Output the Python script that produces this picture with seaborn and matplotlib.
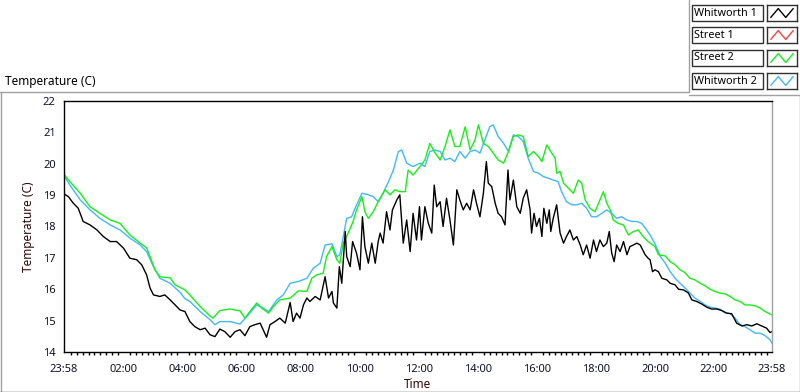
import numpy as np
import pandas as pd
import seaborn as sns
import matplotlib.pyplot as plt
from matplotlib.patches import Rectangle
from matplotlib.lines import Line2D
from matplotlib.ticker import FixedLocator

# time axis: minutes after 23:58 of the previous day
tick_minutes = [0, 122, 242, 362, 482, 602, 722, 842, 962, 1082, 1202, 1322, 1440]
tick_labels = ["23:58", "02:00", "04:00", "06:00", "08:00", "10:00", "12:00",
               "14:00", "16:00", "18:00", "20:00", "22:00", "23:58"]

SERIES = ["Whitworth 1", "Street 1", "Street 2", "Whitworth 2"]
COLORS = {"Whitworth 1": "#000000", "Street 1": "#ff3c3c",
          "Street 2": "#14f014", "Whitworth 2": "#40b8ff"}

whit1_t = [0, 9, 19, 29, 39, 53, 67, 80, 94, 107, 121, 134, 148, 158, 168, 175,
           182, 195, 205, 216, 226, 236, 246, 256, 266, 277, 287, 297, 307, 317,
           327, 338, 348, 358, 368, 378, 388, 399, 405, 412, 419, 429, 439, 450,
           460, 466, 473, 480, 487, 494, 500, 511, 521, 531, 538, 545, 548, 555,
           560, 565, 572, 575, 582, 587, 595, 602, 607, 612, 619, 626, 633, 639,
           643, 649, 656, 663, 668, 677, 683, 690, 697, 704, 710, 717, 723, 727,
           734, 741, 748, 753, 758, 765, 771, 778, 785, 792, 799, 805, 812, 819,
           826, 833, 839, 846, 853, 859, 863, 870, 877, 883, 890, 897, 903, 907,
           914, 921, 928, 934, 941, 948, 951, 956, 961, 967, 972, 976, 982, 987,
           990, 995, 1002, 1009, 1016, 1022, 1029, 1036, 1043, 1050, 1056, 1063,
           1070, 1077, 1083, 1090, 1097, 1104, 1109, 1114, 1119, 1124, 1131, 1138,
           1145, 1151, 1158, 1165, 1172, 1182, 1188, 1192, 1197, 1202, 1209, 1216,
           1226, 1233, 1243, 1250, 1260, 1270, 1277, 1287, 1297, 1307, 1317, 1328,
           1338, 1348, 1358, 1368, 1379, 1389, 1399, 1409, 1419, 1429, 1436, 1440]
whit1_v = [19.04, 18.95, 18.74, 18.58, 18.16, 18.05, 17.89, 17.68, 17.52, 17.52,
           17.31, 16.99, 16.94, 16.78, 16.46, 16.04, 15.82, 15.77, 15.82, 15.66,
           15.50, 15.34, 15.29, 14.97, 14.81, 14.71, 14.76, 14.55, 14.49, 14.73,
           14.65, 14.47, 14.65, 14.71, 14.52, 14.81, 14.87, 14.92, 14.71, 14.47,
           14.87, 14.97, 15.08, 14.92, 15.58, 14.97, 15.24, 15.08, 15.50, 15.72,
           15.61, 15.77, 15.66, 16.40, 15.72, 15.93, 15.56, 15.40, 16.72, 16.19,
           17.84, 17.04, 16.72, 17.52, 17.15, 16.62, 18.31, 17.36, 16.83, 17.47,
           16.83, 17.52, 17.79, 17.47, 18.47, 17.89, 18.53, 18.85, 19.01, 17.47,
           18.21, 17.20, 18.42, 17.57, 18.63, 17.57, 18.63, 18.10, 17.79, 19.32,
           18.63, 18.79, 18.00, 18.90, 18.21, 17.41, 19.17, 18.85, 18.53, 18.74,
           18.53, 19.17, 18.74, 18.31, 19.06, 20.07, 19.38, 19.27, 18.74, 18.42,
           18.31, 18.05, 19.80, 18.85, 19.48, 18.63, 18.42, 18.90, 19.17, 18.53,
           17.79, 18.42, 18.00, 18.26, 17.68, 18.58, 18.10, 18.53, 17.84, 18.26,
           18.69, 17.79, 17.47, 17.68, 17.89, 17.57, 17.68, 17.41, 17.10, 17.41,
           16.99, 17.57, 17.20, 17.57, 17.36, 17.47, 17.84, 17.15, 16.88, 17.41,
           17.20, 17.52, 17.10, 17.36, 17.41, 17.47, 17.41, 17.10, 16.99, 16.94,
           16.56, 16.62, 16.56, 16.35, 16.30, 16.19, 16.14, 16.00, 15.98, 15.88,
           15.66, 15.61, 15.53, 15.43, 15.37, 15.37, 15.32, 15.24, 15.22, 14.92,
           14.83, 14.87, 14.83, 14.90, 14.83, 14.76, 14.62, 14.65]

street2_t = [0, 12, 33, 53, 73, 94, 114, 134, 155, 168, 175, 185, 195, 216, 226,
             246, 256, 277, 297, 303, 317, 338, 358, 368, 378, 392, 402, 416, 426,
             439, 460, 477, 494, 504, 514, 527, 534, 545, 555, 561, 568, 578, 588,
             595, 606, 612, 619, 629, 639, 653, 663, 673, 683, 694, 700, 710, 724,
             734, 744, 755, 765, 775, 785, 795, 805, 816, 826, 836, 843, 853, 863,
             873, 883, 894, 904, 914, 924, 934, 944, 955, 965, 972, 982, 992, 999,
             1002, 1009, 1016, 1026, 1036, 1046, 1053, 1060, 1070, 1080, 1090, 1097,
             1104, 1111, 1117, 1127, 1138, 1148, 1158, 1168, 1178, 1188, 1202, 1209,
             1223, 1233, 1243, 1253, 1263, 1273, 1283, 1294, 1304, 1314, 1324, 1334,
             1345, 1355, 1365, 1375, 1385, 1395, 1406, 1416, 1426, 1440]
street2_v = [19.66, 19.43, 19.06, 18.63, 18.42, 18.21, 18.10, 17.73, 17.47, 17.32,
             17.04, 16.62, 16.40, 16.36, 16.14, 15.98, 15.82, 15.45, 15.15, 15.08,
             15.32, 15.37, 15.31, 15.08, 15.29, 15.56, 15.40, 15.24, 15.45, 15.66,
             15.72, 15.95, 15.93, 16.35, 16.46, 16.51, 17.04, 17.36, 16.94, 16.83,
             17.47, 17.79, 18.16, 18.53, 18.95, 18.47, 18.26, 18.47, 18.79, 19.17,
             19.01, 19.17, 19.11, 19.11, 19.80, 19.64, 19.91, 20.12, 20.65, 20.34,
             20.12, 20.55, 21.08, 20.55, 20.55, 21.18, 20.44, 20.76, 21.24, 20.65,
             20.55, 20.34, 20.12, 20.02, 20.39, 20.87, 20.92, 20.87, 20.23, 20.39,
             20.23, 20.07, 20.60, 20.34, 20.18, 19.70, 19.75, 19.38, 19.22, 19.06,
             19.48, 19.38, 18.85, 18.58, 18.47, 18.85, 19.11, 18.74, 18.53, 18.21,
             18.10, 18.05, 17.73, 17.84, 17.89, 17.68, 17.52, 17.36, 17.10, 17.06,
             16.88, 16.78, 16.62, 16.53, 16.35, 16.30, 16.19, 16.11, 16.00, 15.93,
             15.88, 15.85, 15.77, 15.66, 15.61, 15.50, 15.50, 15.47, 15.40, 15.29,
             15.18]

whit2_t = [0, 12, 33, 53, 73, 94, 114, 134, 155, 168, 182, 195, 216, 236, 246,
           256, 277, 297, 307, 317, 338, 358, 378, 392, 405, 416, 433, 446, 460,
           477, 494, 507, 521, 531, 545, 555, 561, 568, 575, 585, 592, 606, 619,
           629, 639, 649, 660, 670, 680, 687, 697, 710, 724, 734, 744, 755, 765,
           775, 785, 795, 805, 816, 826, 836, 846, 856, 866, 873, 883, 894, 904,
           914, 924, 934, 944, 955, 965, 975, 985, 995, 1005, 1012, 1022, 1033,
           1043, 1053, 1063, 1073, 1083, 1094, 1104, 1114, 1124, 1134, 1145, 1155,
           1165, 1175, 1185, 1192, 1202, 1213, 1223, 1233, 1243, 1253, 1263, 1273,
           1283, 1294, 1304, 1314, 1324, 1334, 1345, 1355, 1365, 1375, 1385, 1395,
           1406, 1416, 1426, 1436, 1440]
whit2_v = [19.62, 19.32, 18.85, 18.53, 18.26, 18.05, 17.89, 17.63, 17.41, 17.20,
           16.72, 16.35, 16.19, 15.90, 15.70, 15.61, 15.29, 15.03, 14.87, 14.97,
           14.97, 14.89, 15.24, 15.50, 15.40, 15.29, 15.66, 15.82, 16.19, 16.25,
           16.35, 16.67, 16.83, 17.41, 17.45, 17.04, 17.10, 17.68, 18.26, 18.31,
           18.58, 19.06, 19.01, 18.95, 18.79, 19.06, 19.43, 19.80, 20.39, 20.44,
           20.02, 19.91, 20.02, 19.91, 20.39, 20.44, 20.39, 20.12, 20.18, 20.07,
           20.39, 20.18, 20.39, 20.44, 20.34, 20.76, 21.18, 21.24, 20.87, 20.65,
           20.39, 20.92, 20.87, 20.71, 20.18, 19.75, 19.70, 19.59, 19.54, 19.48,
           19.43, 19.11, 18.79, 18.69, 18.69, 18.74, 18.58, 18.31, 18.31, 18.42,
           18.53, 18.42, 18.26, 18.31, 18.21, 18.16, 18.16, 18.10, 17.89, 17.73,
           17.45, 17.04, 16.83, 16.56, 16.35, 16.19, 16.04, 15.88, 15.72, 15.61,
           15.50, 15.43, 15.40, 15.37, 15.24, 15.22, 15.08, 14.87, 14.81, 14.71,
           14.60, 14.60, 14.52, 14.39, 14.28]

df = pd.concat([
    pd.DataFrame({"minute": whit1_t, "temp": whit1_v, "sensor": "Whitworth 1"}),
    pd.DataFrame({"minute": street2_t, "temp": street2_v, "sensor": "Street 2"}),
    pd.DataFrame({"minute": whit2_t, "temp": whit2_v, "sensor": "Whitworth 2"}),
])

sns.set_style("white")
plt.rcParams["font.family"] = ["Noto Sans", "DejaVu Sans"]

fig = plt.figure(figsize=(8, 3.92), dpi=100)
ax = fig.add_axes([64 / 800, 1 - 352 / 392, 708 / 800, 251 / 392])

sns.lineplot(data=df, x="minute", y="temp", hue="sensor",
             hue_order=["Whitworth 2", "Street 2", "Whitworth 1"],
             palette=COLORS, estimator=None, sort=True, linewidth=1.0,
             legend=False, ax=ax)

ax.set_xlim(0, 1440)
ax.set_ylim(14, 22)
ax.set_xticks(tick_minutes)
ax.set_xticklabels(tick_labels)
ax.xaxis.set_minor_locator(FixedLocator(list(range(14, 1440, 12))))
ax.set_yticks(range(14, 23))
ax.tick_params(axis="both", which="major", direction="out", length=4,
               width=1, color="black", labelsize=8, labelcolor="#101030", pad=2)
ax.tick_params(axis="x", which="minor", direction="out", length=2,
               width=1, color="black", bottom=True)
ax.tick_params(axis="x", which="major", pad=5)
ax.set_xlabel("Time", fontsize=8.5, color="#300808", labelpad=2)
ax.set_ylabel("Temperature (C)", fontsize=8.5, color="#300808", labelpad=6)
for side in ["left", "top", "bottom"]:
    ax.spines[side].set_color("black")
    ax.spines[side].set_linewidth(1)
ax.spines["right"].set_color("#a0a0a0")
ax.spines["right"].set_linewidth(1)
ax.grid(False)

# outer panel frame
gray = "#a0a0a0"
fig.add_artist(Line2D([0, 689 / 800], [1 - 92 / 392] * 2, color=gray, lw=1))
fig.add_artist(Line2D([689 / 800, 689 / 800], [1 - 92 / 392, 1], color=gray, lw=1))
fig.add_artist(Line2D([689 / 800, 1], [1 - 95 / 392] * 2, color=gray, lw=1))
fig.add_artist(Line2D([0.5 / 800] * 2, [0, 1 - 92 / 392], color=gray, lw=1))
fig.add_artist(Line2D([799.5 / 800] * 2, [0, 1 - 95 / 392], color=gray, lw=1))
fig.add_artist(Line2D([0, 1], [0.5 / 392] * 2, color="#404040", lw=1))

fig.text(5 / 800, 1 - 81 / 392, "Temperature (C)", fontsize=8.5,
         color="black", va="center", ha="left")

# legend panel
row_centers = [13, 35, 58, 81]
for name, yc in zip(SERIES, row_centers):
    y0 = 1 - (yc + 8) / 392
    h = 16 / 392
    fig.add_artist(Rectangle((692 / 800, y0), 71 / 800, h,
                             transform=fig.transFigure, fc="white",
                             ec="#303030", lw=1))
    fig.text(694 / 800, 1 - yc / 392, name, fontsize=7.8, va="center",
             ha="left", color="black")
    sw = fig.add_axes([767 / 800, y0, 30 / 800, h])
    sw.plot([0, 1, 2, 3], [0, 1, 0, 1], color=COLORS[name], lw=1)
    sw.set_xlim(-0.5, 3.5)
    sw.set_ylim(-0.4, 1.4)
    sw.set_xticks([])
    sw.set_yticks([])
    for s in sw.spines.values():
        s.set_color("#303030")
        s.set_linewidth(1)

fig.savefig("out.png", dpi=100)
